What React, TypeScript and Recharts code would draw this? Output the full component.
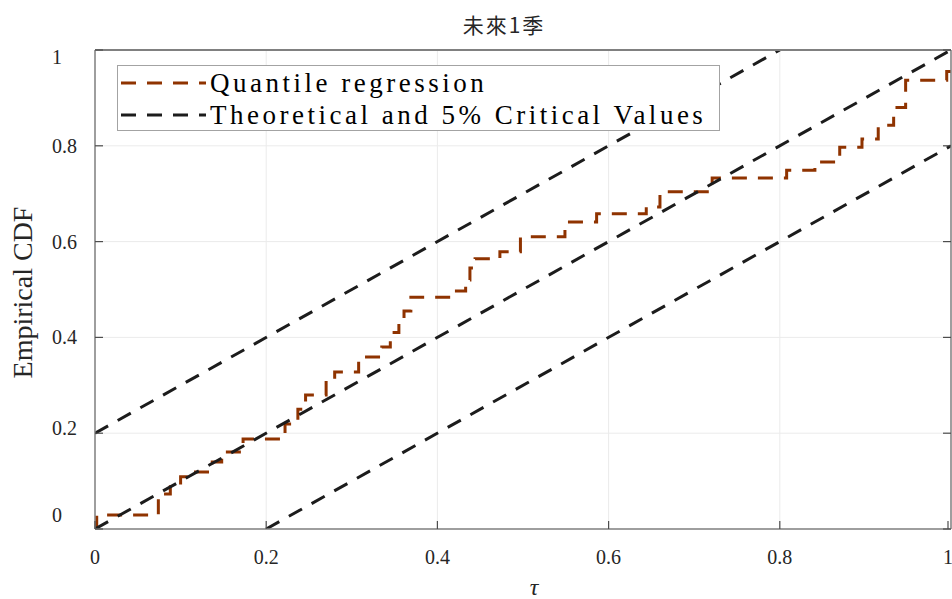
import React from 'react';
import { LineChart, Line, XAxis, YAxis, CartesianGrid, Legend, Label } from 'recharts';

// Axis ticks
const tauTicks = [0, 0.2, 0.4, 0.6, 0.8, 1];
const cdfTicks = [0, 0.2, 0.4, 0.6, 0.8, 1];
const tickText: Record<number, string> = { 0: '0', 0.2: '0.2', 0.4: '0.4', 0.6: '0.6', 0.8: '0.8', 1: '1' };

// Empirical CDF of the quantile-regression test statistic (step function, value holds after each break)
const qrTau = [0, 0.002, 0.074, 0.088, 0.1, 0.114, 0.137, 0.148, 0.173, 0.222, 0.237, 0.246, 0.27, 0.28, 0.308, 0.335, 0.345, 0.355, 0.361, 0.369, 0.417, 0.433, 0.438, 0.444, 0.473, 0.497, 0.549, 0.586, 0.644, 0.66, 0.721, 0.808, 0.841, 0.87, 0.896, 0.915, 0.933, 0.947, 0.995, 1];
const qrCdf = [0, 0.029, 0.073, 0.092, 0.109, 0.119, 0.14, 0.161, 0.188, 0.219, 0.25, 0.28, 0.311, 0.328, 0.359, 0.38, 0.41, 0.436, 0.455, 0.484, 0.497, 0.52, 0.545, 0.564, 0.579, 0.61, 0.641, 0.658, 0.672, 0.704, 0.733, 0.749, 0.766, 0.797, 0.814, 0.843, 0.88, 0.937, 0.955, 0.955];

// Theoretical 45-degree line and the 5% critical bands
const theoTau = [0, 1];
const theoCdf = [0, 1];
const upperTau = [0, 0.8];
const upperCdf = [0.2, 1];
const lowerTau = [0.2, 1];
const lowerCdf = [0, 0.8];

const seriesNames = ['Quantile regression', 'Theoretical and 5% Critical Values'];
const chartTitle = '未來1季';
const xTitle = 'τ';
const yTitle = 'Empirical CDF';

const zip = (xs: number[], ys: number[]) => xs.map((t, i) => ({ tau: t, cdf: ys[i] }));
const qrData = zip(qrTau, qrCdf);
const theoData = zip(theoTau, theoCdf);
const upperData = zip(upperTau, upperCdf);
const lowerData = zip(lowerTau, lowerCdf);

const ORANGE = '#8f3300';
const BLACK = '#1c1c1c';
const FRAME = '#808080';
const TICK = '#4d4d4d';
const DASH = '15 11';
const SERIF = '"Liberation Serif", "Times New Roman", serif';

const BottomTick = (props: any) => {
  const { x, y, payload } = props;
  return (
    <g>
      <line x1={x} x2={x} y1={y} y2={y - 8} stroke={TICK} strokeWidth={1.2} />
      <text x={x} y={y + 28} textAnchor="middle" dominantBaseline="central" fontFamily={SERIF} fontSize={20} fill="#262626">
        {tickText[payload.value]}
      </text>
    </g>
  );
};

const TopTick = (props: any) => {
  const { x, y } = props;
  return <line x1={x} x2={x} y1={y} y2={y + 8} stroke={TICK} strokeWidth={1.2} />;
};

const LeftTick = (props: any) => {
  const { x, y, payload } = props;
  const v = payload.value;
  const nudge = v === 0 ? -14 : v === 1 ? 7 : v === 0.2 ? -5 : 0;
  return (
    <g>
      <line x1={x} x2={x + 8} y1={y} y2={y} stroke={TICK} strokeWidth={1.2} />
      <text x={x - 43} y={y + nudge} textAnchor="start" dominantBaseline="central" fontFamily={SERIF} fontSize={20} fill="#262626">
        {tickText[v]}
      </text>
    </g>
  );
};

const RightTick = (props: any) => {
  const { x, y } = props;
  return <line x1={x} x2={x - 8} y1={y} y2={y} stroke={TICK} strokeWidth={1.2} />;
};

const LegendBox = (props: any) => {
  const items = (props.payload || []).filter((p: any) => p.type !== 'none');
  return (
    <div
      style={{
        width: 603,
        height: 66,
        boxSizing: 'border-box',
        border: '1px solid #a3a3a3',
        background: '#ffffff',
        position: 'relative',
      }}
    >
      {items.map((item: any, i: number) => (
        <div
          key={item.value}
          style={{ position: 'absolute', left: 0, top: 0.5 + i * 32, height: 32, display: 'flex', alignItems: 'center' }}
        >
          <svg width={92} height={32} style={{ display: 'block' }}>
            <line x1={3} x2={88} y1={16} y2={16} stroke={item.color} strokeWidth={3} strokeDasharray={DASH} />
          </svg>
          <span style={{ fontFamily: SERIF, fontSize: 27, letterSpacing: 3.5, color: '#000', whiteSpace: 'nowrap', lineHeight: '32px' }}>
            {item.value}
          </span>
        </div>
      ))}
    </div>
  );
};

export default function App() {
  return (
    <div style={{ position: 'absolute', left: 0, top: 0, width: 952, height: 599, background: '#fff' }}>
      <LineChart width={952} height={599} margin={{ top: 20, right: 0, bottom: 40, left: 0 }}>
        <CartesianGrid stroke="#ebebeb" strokeWidth={1} />
        <XAxis
          xAxisId={0}
          dataKey="tau"
          type="number"
          domain={[0, 1]}
          ticks={tauTicks}
          height={30}
          tickSize={0}
          tickMargin={0}
          tick={<BottomTick />}
          axisLine={{ stroke: FRAME, strokeWidth: 1.5 }}
          tickLine={false}
          allowDataOverflow
        >
          <Label
            content={(p: any) => (
              <text x={534} y={p.viewBox.y + 58} textAnchor="middle" dominantBaseline="central" fontFamily={SERIF} fontStyle="italic" fontSize={24} fill="#262626">
                {xTitle}
              </text>
            )}
          />
        </XAxis>
        <XAxis
          xAxisId="top"
          orientation="top"
          type="number"
          domain={[0, 1]}
          ticks={tauTicks}
          height={30}
          tickSize={0}
          tickMargin={0}
          tick={<TopTick />}
          axisLine={{ stroke: FRAME, strokeWidth: 2 }}
          tickLine={false}
          allowDataOverflow
        >
          <Label
            content={(p: any) => (
              <text x={504} y={p.viewBox.y + 4} textAnchor="middle" dominantBaseline="central" fontFamily='"Noto Sans CJK TC", "Noto Sans CJK SC", sans-serif' fontSize={21} letterSpacing={2} fill="#262626">
                {chartTitle}
              </text>
            )}
          />
        </XAxis>
        <YAxis
          yAxisId={0}
          type="number"
          domain={[0, 1]}
          ticks={cdfTicks}
          width={95}
          tickSize={0}
          tickMargin={0}
          tick={<LeftTick />}
          axisLine={{ stroke: FRAME, strokeWidth: 1.5 }}
          tickLine={false}
          allowDataOverflow
        >
          <Label
            content={(p: any) => {
              const cy = p.viewBox.y + p.viewBox.height / 2 + 3;
              return (
                <text x={22} y={cy} transform={`rotate(-90 22 ${cy})`} textAnchor="middle" dominantBaseline="central" fontFamily={SERIF} fontSize={28} fill="#262626">
                  {yTitle}
                </text>
              );
            }}
          />
        </YAxis>
        <YAxis
          yAxisId="right"
          orientation="right"
          type="number"
          domain={[0, 1]}
          ticks={cdfTicks}
          width={1}
          tickSize={0}
          tickMargin={0}
          tick={<RightTick />}
          axisLine={{ stroke: FRAME, strokeWidth: 1.5 }}
          tickLine={false}
          allowDataOverflow
        />
        <Legend
          layout="horizontal"
          verticalAlign="middle"
          align="center"
          content={<LegendBox />}
          wrapperStyle={{ left: 117, top: 65, width: 603, height: 66 }}
        />
        <Line
          data={qrData}
          dataKey="cdf"
          name={seriesNames[0]}
          type="stepAfter"
          stroke={ORANGE}
          strokeWidth={3}
          strokeDasharray={DASH}
          dot={false}
          activeDot={false}
          isAnimationActive={false}
        />
        <Line
          data={theoData}
          dataKey="cdf"
          name={seriesNames[1]}
          type="linear"
          stroke={BLACK}
          strokeWidth={3}
          strokeDasharray={DASH}
          dot={false}
          activeDot={false}
          isAnimationActive={false}
        />
        <Line
          data={upperData}
          dataKey="cdf"
          name="upper band"
          legendType="none"
          type="linear"
          stroke={BLACK}
          strokeWidth={3}
          strokeDasharray={DASH}
          dot={false}
          activeDot={false}
          isAnimationActive={false}
        />
        <Line
          data={lowerData}
          dataKey="cdf"
          name="lower band"
          legendType="none"
          type="linear"
          stroke={BLACK}
          strokeWidth={3}
          strokeDasharray={DASH}
          dot={false}
          activeDot={false}
          isAnimationActive={false}
        />
      </LineChart>
    </div>
  );
}
